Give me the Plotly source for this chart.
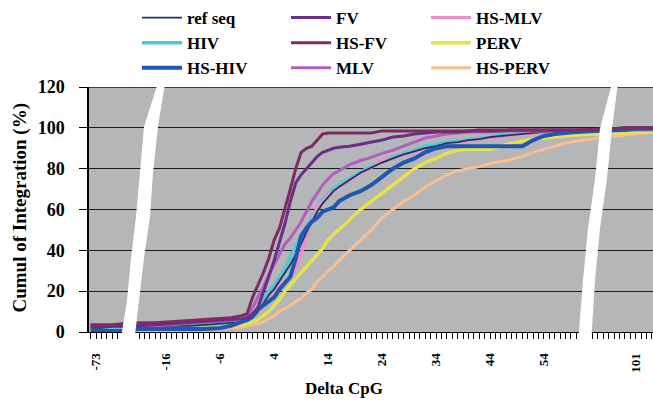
import plotly.graph_objects as go

# Delta CpG categories (left segment, main segment, right segment)
DELTA = [-74, -72, -70, -68,
         -21, -18, -15, -12, -9, -6, -4, -2, -1, 0, 1, 2, 3, 4, 5, 6, 7, 8, 9, 10,
         11, 12, 13, 14, 15, 16, 18, 20, 22, 24, 26, 28, 30, 32, 34, 36, 38, 40,
         42, 44, 46, 48, 50, 52, 54, 56, 58, 60,
         97, 99, 101, 103, 105]

# Cumulative integration (%) per series
REF_SEQ = [2, 2, 2.5, 2.5,
           2.5, 2.5, 3, 3, 3.5, 4, 4.5, 5, 5.5, 7, 10, 14, 18, 21, 25, 29, 33, 38, 43, 49,
           54, 59, 63, 66, 69, 71, 74.5, 78, 80.5, 83, 85, 87, 88.5, 90, 91, 92.5, 93, 94,
           94.5, 95.5, 96, 96.5, 97, 97.5, 98, 98.5, 98.5, 99,
           99.5, 99.5, 100, 100, 100]
HIV = [1.5, 1.5, 1.5, 1.5,
       2, 2, 2.5, 3, 3.5, 4, 4.5, 5, 5.5, 7, 11, 16, 20, 23, 27, 31, 37, 42, 47, 51,
       56, 61, 65, 68, 70.5, 72, 75.5, 78.5, 81, 83.5, 85.5, 87.5, 89, 91, 92, 93, 93.5, 94,
       95, 95.5, 96.5, 97, 97.5, 98, 98.5, 98.5, 98.5, 98.5,
       98.5, 99, 99, 99, 99]
HS_HIV = [0.5, 0.5, 0.5, 0.5,
          1.5, 1.5, 1.5, 1.5, 1.5, 2, 3, 5, 6, 8, 11, 13, 15, 17, 21, 24, 27, 36, 47, 51,
          54, 56, 59, 60, 61, 64, 67, 69, 72, 76, 80, 83, 85, 88, 90, 91, 91, 91,
          91, 91, 91, 91, 91, 94, 96, 97, 97.5, 98,
          99, 99, 99.5, 99.5, 99.5]
FV = [2.5, 2.5, 3, 3,
      3, 3.5, 4, 4.5, 5, 5.5, 6, 6.5, 7, 9, 12, 19, 27, 35, 44, 53, 64, 73, 77, 80,
      83, 86, 88, 89, 90, 90.5, 91, 92, 93, 94, 95.5, 96, 97, 97.5, 98, 98, 98, 98.5,
      98.5, 98.5, 98.5, 99, 99, 99, 99, 99, 99, 99,
      99.5, 100, 100, 100, 100]
HS_FV = [3.5, 3.5, 3.5, 4,
         4.5, 4.5, 5, 5.5, 6, 6.5, 7, 8, 9, 17, 23, 29, 36, 45, 51, 60, 70, 80, 88, 90,
         91, 94, 97, 97.5, 97.5, 97.5, 97.5, 97.5, 97.5, 98.5, 98.5, 98.5, 98.5, 98.5, 98.5, 98.5, 98.5, 98.5,
         99, 99, 99, 99, 99, 99, 99, 99, 99, 99,
         99.5, 100, 100, 100, 100]
MLV = [3, 3, 3, 3,
       3, 3, 3.5, 4, 4.5, 5, 5.5, 6, 8, 12, 17, 22, 28, 33, 38, 43, 46, 50, 54, 59,
       64, 68, 72, 75, 77.5, 79, 82, 84, 85.5, 87.5, 89, 91, 93, 95, 96, 97, 97.5, 98,
       98, 98, 98.5, 98.5, 98.5, 98.5, 98.5, 99, 99, 99,
       99, 99.5, 99.5, 99.5, 99.5]
HS_MLV = [3.5, 3.5, 3.5, 3.5,
          3.5, 3.5, 4, 4, 4.5, 5, 5, 5.5, 6, 8, 11, 14, 17, 20, 23, 25, 27, 31, 38, 47,
          55, 61, 64, 67, 69, 71, 74, 77.5, 80.5, 84, 85, 86.5, 88, 89, 90.5, 92, 92.5, 93.5,
          94.5, 95, 95.5, 96, 97, 97.5, 98, 98.5, 98.5, 98.5,
          98.5, 99, 99, 99, 99]
PERV = [1, 1, 1, 1,
        1.5, 1.5, 1.5, 2, 2, 2.5, 3, 3.5, 4, 5, 6, 8, 10, 13, 16, 20, 23, 26, 29, 32,
        35, 38, 41, 45, 48, 50, 55, 60, 64, 68, 72, 76, 80, 83, 85, 87.5, 89, 89.5,
        89.5, 89.5, 91, 92.5, 93.5, 94.5, 95, 95.5, 96, 96.5,
        97.5, 97.5, 98, 98, 98]
HS_PERV = [1, 1, 1, 1,
           1, 1, 1, 1.5, 1.5, 2, 2, 2.5, 3, 3.5, 4, 5, 6.5, 8, 10, 11.5, 13, 15, 16.5, 19,
           21, 25, 27, 30, 32, 35, 40, 45, 50, 56, 60, 64, 67, 71, 74, 77, 79, 80,
           81, 82.5, 83.5, 84.5, 86, 88, 89.5, 91, 92.5, 93.5,
           96, 96.5, 97, 97.5, 98]

TICK_LABELS = [-73, -16, -6, 4, 14, 24, 34, 44, 54, 101]


def axis_pos(d):
    """Place a Delta CpG value on the broken category axis."""
    if d <= -60:
        return d + 44
    if d >= 90:
        return d - 30
    return d


X = [axis_pos(d) for d in DELTA]

# name, values, colour, width, legend column
SERIES = [
    ("HS-PERV", HS_PERV, "#F9BE8F", 3, "legend3"),
    ("PERV", PERV, "#E4E44A", 3.5, "legend3"),
    ("HIV", HIV, "#56C6D6", 3.5, "legend"),
    ("HS-MLV", HS_MLV, "#F28EC4", 3, "legend3"),
    ("ref seq", REF_SEQ, "#1E3366", 1.8, "legend"),
    ("MLV", MLV, "#B060C0", 3, "legend2"),
    ("HS-HIV", HS_HIV, "#1F58B2", 4, "legend"),
    ("FV", FV, "#6C2D88", 3, "legend2"),
    ("HS-FV", HS_FV, "#7E2C60", 3, "legend2"),
]
RANK = {"ref seq": 1, "HIV": 2, "HS-HIV": 3, "FV": 1, "HS-FV": 2, "MLV": 3,
        "HS-MLV": 1, "PERV": 2, "HS-PERV": 3}

SERIF = "Liberation Serif"

fig = go.Figure()
for name, vals, color, width, leg in SERIES:
    fig.add_trace(go.Scatter(
        x=X, y=vals, mode="lines", name=name,
        line=dict(color=color, width=width),
        legend=leg, legendgroup=name, legendrank=RANK[name],
        showlegend=True,
    ))

# pixel helpers for decorations (plot area 89..653 x 86..332)
L, R, T, B = 89, 653, 86, 332


def px(x):
    return (x - L) / (R - L)


def py(y):
    return (B - y) / (B - T)


def band(points):
    path = "M " + " L ".join(f"{px(a):.4f},{py(b):.4f}" for a, b in points) + " Z"
    return dict(type="path", path=path, xref="paper", yref="paper",
                fillcolor="white", line=dict(width=0), layer="above")


left_break = [(158, 82), (144, 126), (140, 172), (136, 216), (131, 258), (127, 300), (120, 344),
              (134, 344), (139, 300), (144, 258), (150, 216), (153, 172), (158, 126), (165, 82)]
right_break = [(612, 82), (600, 128), (595, 178), (588, 228), (583, 280), (578, 344),
               (591, 344), (595, 280), (600, 228), (607, 178), (612, 128), (618, 82)]

# top border of the plotting area at 120 %
top_line = dict(type="line", xref="paper", yref="y", x0=0, x1=1, y0=120, y1=120,
                line=dict(color="#1A1A1A", width=1.5), layer="below")

legend_common = dict(
    bgcolor="rgba(0,0,0,0)", font=dict(family=SERIF, size=17, color="black", weight="bold"),
    xanchor="left", yanchor="top", itemwidth=40, tracegroupgap=9, traceorder="normal",
)

fig.update_layout(
    width=653, height=404,
    margin=dict(l=L, r=653 - R, t=T, b=404 - B),
    paper_bgcolor="white", plot_bgcolor="#B4B6B8",
    showlegend=True,
    legend=dict(x=px(137), y=py(-1), **legend_common),
    legend2=dict(x=px(286), y=py(-1), **legend_common),
    legend3=dict(x=px(426), y=py(-1), **legend_common),
    xaxis=dict(
        range=[-30.3, 74.2], showgrid=False, zeroline=False,
        tickmode="array", tickvals=[axis_pos(v) for v in TICK_LABELS],
        ticktext=[str(v) for v in TICK_LABELS], tickangle=-90,
        ticks="outside", ticklen=6, tickcolor="black",
        tickfont=dict(family=SERIF, size=13, color="black", weight="bold"),
        minor=dict(dtick=1, ticks="outside", ticklen=6, tickcolor="black", showgrid=False),
        showline=True, linecolor="black", linewidth=1, ticklabelstandoff=9,
    ),
    yaxis=dict(
        range=[0, 120], dtick=20, showgrid=True, gridcolor="#1A1A1A", gridwidth=1.2,
        zeroline=False, ticks="outside", ticklen=8, tickcolor="black",
        tickfont=dict(family=SERIF, size=18, color="black", weight="bold"),
        showline=True, linecolor="black", linewidth=1.5, ticklabelstandoff=11,
    ),
    shapes=[top_line, band(left_break), band(right_break)],
    annotations=[
        dict(text="Cumul of Integration (%)", xref="paper", yref="paper",
             x=px(20), y=py(207), xanchor="center", yanchor="middle",
             textangle=-90, showarrow=False,
             font=dict(family=SERIF, size=19, color="black", weight="bold")),
        dict(text="Delta CpG", xref="paper", yref="paper",
             x=px(344), y=py(389), xanchor="center", yanchor="middle", showarrow=False,
             font=dict(family=SERIF, size=17, color="black", weight="bold")),
    ],
)

fig.write_html("out.html")
